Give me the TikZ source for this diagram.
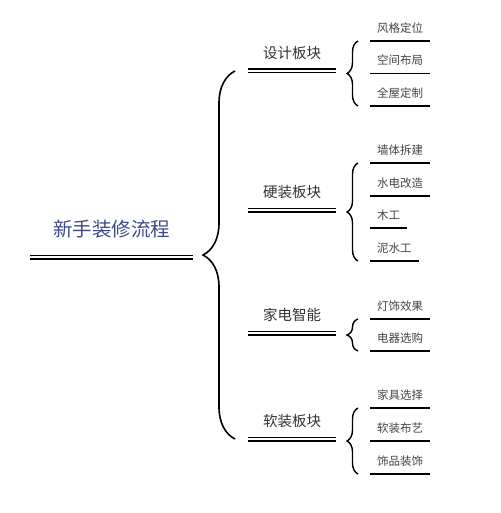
\documentclass[tikz,border=0pt]{standalone}
\usepackage{fontspec}
\newfontfamily\cjk{Noto Sans CJK SC}
\usepackage{xcolor}
\usepackage{tikz}
\usetikzlibrary{decorations.pathreplacing,positioning,calc}
\definecolor{rootblue}{HTML}{3F4A8A}
\definecolor{catgray}{HTML}{333333}
\definecolor{leafgray}{HTML}{444444}

\begin{document}
\begin{tikzpicture}[
  x=1pt, y=-1pt,
  rootnode/.style={anchor=south, font=\cjk\fontsize{19.5pt}{20pt}\selectfont, text=rootblue, inner xsep=22.5pt, inner ysep=0pt, text height=15pt, text depth=20pt},
  catnode/.style={anchor=south west, font=\cjk\fontsize{14.5pt}{15pt}\selectfont, text=catgray, inner xsep=15pt, inner ysep=0pt, text height=11pt, text depth=12pt},
  leafnode/.style={anchor=south west, font=\cjk\fontsize{11.5pt}{12pt}\selectfont, text=leafgray, inner xsep=7pt, inner ysep=0pt, text height=9pt, text depth=8.6pt},
  dline/.style={double, double distance=2pt, line width=1.5pt},
  uline/.style={line width=1.5pt},
  bigbrace/.style={decorate, decoration={brace, amplitude=32pt}, line width=1.6pt},
  smallbrace/.style={decorate, decoration={brace, amplitude=11pt}, line width=1.4pt}
]
\useasboundingbox (0,0) rectangle (500,513);

% Root
\node[rootnode] (root) at (111.5,257) {新手装修流程};
\draw[dline] (root.south west) -- (root.south east);

% Categories
\node[catnode] (sj) at (248,71) {设计板块};
\node[catnode] (yz) at (248,210) {硬装板块};
\node[catnode] (jd) at (248,333) {家电智能};
\node[catnode] (rz) at (248,439) {软装板块};
\foreach \c in {sj,yz,jd,rz}
  \draw[dline] (\c.south west) -- (\c.south east);

% Leaves - design
\node[leafnode] (fgdw) at (370,41) {风格定位};
\node[leafnode] (kjbj) at (370,73.5) {空间布局};
\node[leafnode] (qwdz) at (370,106) {全屋定制};

% Leaves - hard decoration
\node[leafnode] (qtcj) at (370,163) {墙体拆建};
\node[leafnode] (sdgz) at (370,196) {水电改造};
\node[leafnode] (mg) at (370,228) {木工};
\node[leafnode] (nsg) at (370,261) {泥水工};

% Leaves - appliances
\node[leafnode] (dsxg) at (370,319) {灯饰效果};
\node[leafnode] (dqxg) at (370,351) {电器选购};

% Leaves - soft decoration
\node[leafnode] (jjxz) at (370,408) {家具选择};
\node[leafnode] (rzby) at (370,441) {软装布艺};
\node[leafnode] (spzs) at (370,474) {饰品装饰};

\foreach \l in {fgdw,kjbj,qwdz,qtcj,sdgz,mg,nsg,dsxg,dqxg,jjxz,rzby,spzs}
  \draw[uline] (\l.south west) -- (\l.south east);

% Braces
\draw[bigbrace] ([xshift=-13pt]rz.south west) -- ([xshift=-13pt]sj.south west);
\draw[smallbrace] ([xshift=-12pt]qwdz.south west) -- ([xshift=-12pt]fgdw.south west);
\draw[smallbrace] ([xshift=-12pt]nsg.south west) -- ([xshift=-12pt]qtcj.south west);
\draw[smallbrace] ([xshift=-12pt]dqxg.south west) -- ([xshift=-12pt]dsxg.south west);
\draw[smallbrace] ([xshift=-12pt]spzs.south west) -- ([xshift=-12pt]jjxz.south west);

\end{tikzpicture}
\end{document}
